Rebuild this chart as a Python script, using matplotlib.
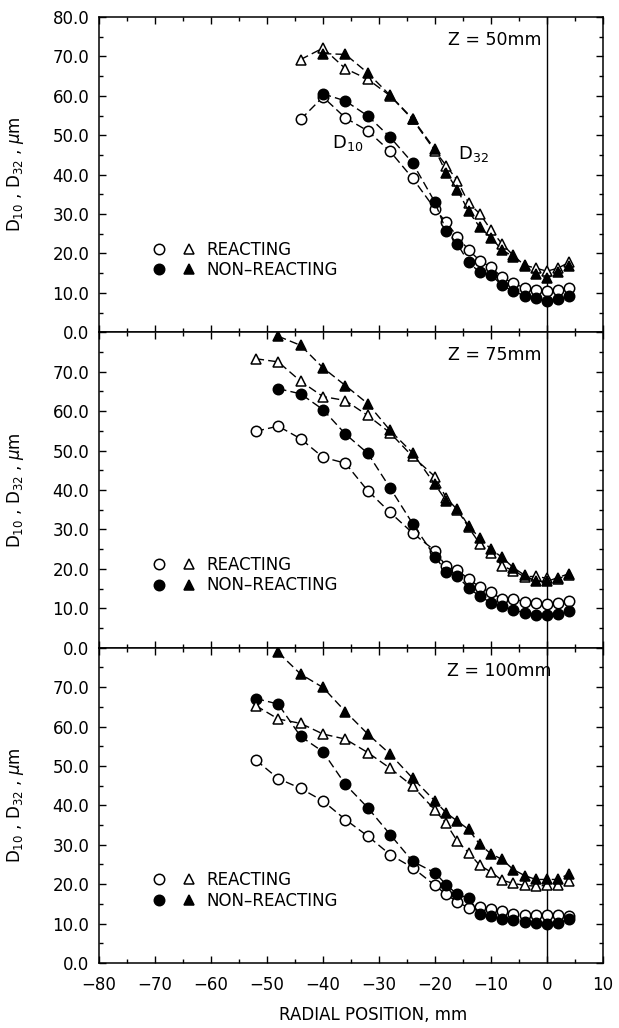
import matplotlib
matplotlib.use("Agg")
import matplotlib.pyplot as plt
from matplotlib.lines import Line2D
from matplotlib.legend_handler import HandlerTuple
from matplotlib.ticker import MultipleLocator, FuncFormatter

# ---------------- data ----------------
panel_labels = ["Z = 50mm", "Z = 75mm", "Z = 100mm"]

# Z = 50 mm
x50_open = [-44, -40, -36, -32, -28, -24, -20, -18, -16, -14, -12, -10, -8, -6, -4, -2, 0, 2, 4]
x50_fill = [-40, -36, -32, -28, -24, -20, -18, -16, -14, -12, -10, -8, -6, -4, -2, 0, 2, 4]
d10_r_50 = [54.0, 59.7, 54.4, 51.1, 45.9, 39.1, 31.3, 27.9, 24.3, 20.9, 18.2, 16.5, 14.0, 12.4, 11.3, 10.8, 10.4, 10.8, 11.3]
d32_r_50 = [69.2, 72.1, 66.9, 64.2, 60.0, 54.0, 46.0, 42.3, 38.5, 32.8, 30.1, 26.0, 22.4, 19.5, 17.0, 16.3, 15.5, 16.3, 17.8]
d10_n_50 = [60.5, 58.7, 54.9, 49.5, 43.0, 33.0, 25.8, 22.4, 17.8, 15.2, 14.6, 11.9, 10.4, 9.3, 8.7, 8.0, 8.5, 9.3]
d32_n_50 = [70.7, 70.5, 65.8, 60.1, 54.2, 46.4, 40.5, 36.2, 30.7, 26.7, 24.0, 20.9, 19.2, 16.8, 14.8, 13.7, 15.2, 16.9]

# Z = 75 mm
x75_open = [-52, -48, -44, -40, -36, -32, -28, -24, -20, -18, -16, -14, -12, -10, -8, -6, -4, -2, 0, 2, 4]
x75_fill = [-48, -44, -40, -36, -32, -28, -24, -20, -18, -16, -14, -12, -10, -8, -6, -4, -2, 0, 2, 4]
d10_r_75 = [54.9, 56.2, 53.0, 48.3, 46.8, 39.8, 34.3, 29.1, 24.6, 20.6, 19.7, 17.4, 15.4, 14.0, 12.3, 12.3, 11.7, 11.4, 11.0, 11.4, 11.9]
d32_r_75 = [73.3, 72.5, 67.6, 63.7, 62.7, 58.9, 54.5, 48.5, 43.4, 38.0, 35.0, 30.5, 26.4, 23.9, 20.8, 19.5, 18.0, 18.1, 17.6, 17.5, 18.5]
d10_n_75 = [65.7, 64.4, 60.4, 54.2, 49.3, 40.5, 31.5, 23.1, 19.3, 18.2, 15.1, 13.1, 11.4, 10.6, 9.5, 8.9, 8.3, 8.3, 8.6, 9.2]
d32_n_75 = [79.0, 76.7, 71.0, 66.5, 61.9, 55.1, 49.4, 41.4, 37.3, 35.3, 30.9, 27.8, 25.0, 22.9, 20.3, 18.4, 16.8, 16.8, 17.8, 18.8]

# Z = 100 mm
x100_open = [-52, -48, -44, -40, -36, -32, -28, -24, -20, -18, -16, -14, -12, -10, -8, -6, -4, -2, 0, 2, 4]
x100_fc = [-52, -48, -44, -40, -36, -32, -28, -24, -20, -18, -16, -14, -12, -10, -8, -6, -4, -2, 0, 2, 4]
x100_ft = [-48, -44, -40, -36, -32, -28, -24, -20, -18, -16, -14, -12, -10, -8, -6, -4, -2, 0, 2, 4]
d10_r_100 = [51.5, 46.8, 44.3, 41.1, 36.4, 32.2, 27.5, 24.2, 19.7, 17.4, 15.5, 14.0, 14.2, 13.7, 13.1, 12.5, 12.3, 12.1, 12.3, 12.1, 11.9]
d32_r_100 = [65.3, 61.9, 60.8, 58.1, 56.8, 53.4, 49.4, 44.9, 38.8, 35.4, 30.9, 28.0, 24.8, 23.1, 21.0, 20.2, 19.7, 19.5, 19.7, 19.9, 20.8]
d10_n_100 = [67.1, 65.7, 57.5, 53.6, 45.3, 39.4, 32.6, 25.8, 22.9, 19.9, 17.4, 16.5, 12.5, 11.9, 11.2, 10.8, 10.3, 10.2, 10.0, 10.2, 11.2]
d32_n_100 = [78.8, 73.3, 69.9, 63.8, 58.1, 53.0, 46.9, 41.1, 38.1, 36.0, 33.9, 30.1, 27.7, 26.3, 23.7, 22.2, 21.2, 21.2, 21.2, 22.7]

panels = [
    dict(d10r=(x50_open, d10_r_50), d32r=(x50_open, d32_r_50),
         d10n=(x50_fill, d10_n_50), d32n=(x50_fill, d32_n_50)),
    dict(d10r=(x75_open, d10_r_75), d32r=(x75_open, d32_r_75),
         d10n=(x75_fill, d10_n_75), d32n=(x75_fill, d32_n_75)),
    dict(d10r=(x100_open, d10_r_100), d32r=(x100_open, d32_r_100),
         d10n=(x100_fc, d10_n_100), d32n=(x100_ft, d32_n_100)),
]

# ---------------- style ----------------
plt.rcParams['font.family'] = ['DejaVu Sans']
plt.rcParams['mathtext.fontset'] = 'dejavusans'
FS = 12

fig, axes = plt.subplots(3, 1, sharex=True, figsize=(6.19, 10.28), dpi=100)
fig.subplots_adjust(left=0.160, right=0.974, top=0.9835, bottom=0.0632, hspace=0)

ms = 7.5
dash = (0, (6, 3))
line_kw = dict(color='black', lw=1.0, linestyle=dash)
open_kw = dict(mfc='white', mec='black', mew=1.1)
fill_kw = dict(mfc='black', mec='black', mew=1.1)

for i, (ax, pdat) in enumerate(zip(axes, panels)):
    ax.axvline(0, color='black', lw=1.0, zorder=1)
    ax.plot(*pdat['d10r'], marker='o', ms=ms, zorder=3, **line_kw, **open_kw)
    ax.plot(*pdat['d10n'], marker='o', ms=ms, zorder=3, **line_kw, **fill_kw)
    ax.plot(*pdat['d32r'], marker='^', ms=ms, zorder=3, **line_kw, **open_kw)
    ax.plot(*pdat['d32n'], marker='^', ms=ms, zorder=3, **line_kw, **fill_kw)

    ax.set_xlim(-80, 10)
    ax.set_ylim(0, 80)
    ax.xaxis.set_major_locator(MultipleLocator(10))
    ax.xaxis.set_minor_locator(MultipleLocator(5))
    ax.yaxis.set_major_locator(MultipleLocator(10))
    ax.yaxis.set_minor_locator(MultipleLocator(5))
    if i == 0:
        ax.yaxis.set_major_formatter(FuncFormatter(lambda v, p: f"{v:.1f}"))
    else:
        ax.yaxis.set_major_formatter(
            FuncFormatter(lambda v, p: "" if v > 75 else f"{v:.1f}"))
    ax.tick_params(which='both', direction='in', top=True, right=True,
                   labelsize=FS, width=1.0)
    ax.tick_params(which='major', length=5)
    ax.tick_params(which='minor', length=3)
    ax.tick_params(axis='y', pad=7)
    ax.tick_params(axis='x', pad=9)
    for s in ax.spines.values():
        s.set_linewidth(1.1)

    ax.set_ylabel(r"D$_{10}$ , D$_{32}$ , $\mu$m", fontsize=FS)
    ax.yaxis.set_label_coords(-0.145, 0.5)

    ax.text(-0.9 if i < 2 else 0.9, 74.2, panel_labels[i], ha='right', va='center',
            fontsize=12.5)

    h_or = Line2D([], [], marker='o', ms=ms, ls='none', **open_kw)
    h_tr = Line2D([], [], marker='^', ms=ms, ls='none', **open_kw)
    h_fc = Line2D([], [], marker='o', ms=ms, ls='none', **fill_kw)
    h_ft = Line2D([], [], marker='^', ms=ms, ls='none', **fill_kw)
    ax.legend([(h_or, h_tr), (h_fc, h_ft)], ["REACTING", "NON\u2013REACTING"],
              handler_map={tuple: HandlerTuple(ndivide=None, pad=1.2)},
              loc='center left', bbox_to_anchor=(0.11, 0.23),
              frameon=False, fontsize=FS, handlelength=2.4, handletextpad=0.7,
              labelspacing=0.15, borderpad=0, borderaxespad=0)

axes[0].text(-38.4, 48, r"D$_{10}$", fontsize=13, ha='left', va='center')
axes[0].text(-15.9, 45.3, r"D$_{32}$", fontsize=13, ha='left', va='center')

axes[2].set_xlabel("RADIAL POSITION, mm", fontsize=FS)
axes[2].xaxis.set_label_coords(0.544, -0.135)

fig.savefig("out.png", dpi=100)
